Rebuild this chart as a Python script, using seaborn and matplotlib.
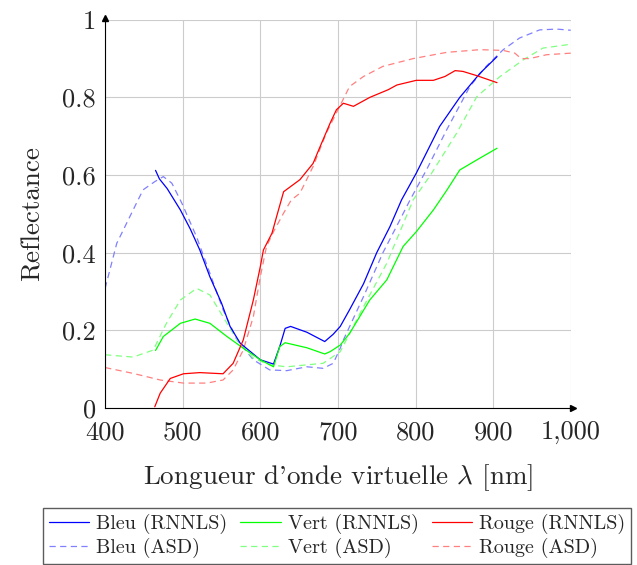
import numpy as np
import pandas as pd
import matplotlib
matplotlib.use("Agg")
import matplotlib.pyplot as plt
import seaborn as sns
from matplotlib.ticker import FuncFormatter

# Data
bleu_rnnls_x = [465, 470, 480, 497, 510, 522, 535, 550, 561, 574, 600, 617, 625, 632, 639, 660, 683, 694, 703, 715, 733, 750, 767, 782, 801, 831, 857, 883, 905]
bleu_rnnls_y = [0.612, 0.59, 0.565, 0.51, 0.46, 0.407, 0.338, 0.27, 0.21, 0.167, 0.124, 0.113, 0.158, 0.205, 0.21, 0.195, 0.171, 0.19, 0.21, 0.253, 0.32, 0.40, 0.467, 0.536, 0.605, 0.725, 0.80, 0.862, 0.905]

vert_rnnls_x = [465, 475, 497, 516, 535, 557, 578, 600, 617, 625, 632, 660, 683, 690, 703, 715, 741, 763, 784, 801, 823, 840, 857, 879, 905]
vert_rnnls_y = [0.148, 0.184, 0.218, 0.229, 0.218, 0.184, 0.154, 0.124, 0.106, 0.158, 0.168, 0.155, 0.139, 0.145, 0.162, 0.192, 0.278, 0.33, 0.416, 0.454, 0.51, 0.56, 0.613, 0.639, 0.669]

rouge_rnnls_x = [464, 471, 484, 501, 522, 552, 565, 578, 591, 600, 604, 615, 621, 630, 651, 668, 677, 690, 698, 707, 720, 741, 765, 776, 801, 823, 838, 851, 861, 879, 905]
rouge_rnnls_y = [0.003, 0.038, 0.076, 0.088, 0.091, 0.088, 0.115, 0.175, 0.278, 0.364, 0.407, 0.45, 0.493, 0.557, 0.588, 0.63, 0.673, 0.734, 0.768, 0.785, 0.777, 0.80, 0.82, 0.832, 0.844, 0.844, 0.854, 0.869, 0.867, 0.856, 0.838]

bleu_asd_x = [400, 415, 441, 449, 464, 475, 486, 499, 518, 535, 552, 570, 591, 612, 634, 660, 681, 694, 703, 707, 733, 758, 780, 793, 814, 840, 870, 891, 913, 934, 960, 982, 1000]
bleu_asd_y = [0.308, 0.424, 0.53, 0.562, 0.583, 0.596, 0.579, 0.527, 0.44, 0.347, 0.253, 0.175, 0.124, 0.098, 0.096, 0.106, 0.102, 0.115, 0.154, 0.175, 0.287, 0.40, 0.485, 0.536, 0.613, 0.716, 0.828, 0.88, 0.923, 0.953, 0.974, 0.976, 0.973]

vert_asd_x = [400, 436, 462, 479, 497, 518, 535, 552, 570, 591, 612, 634, 660, 681, 703, 733, 763, 797, 818, 853, 879, 909, 939, 964, 1000]
vert_asd_y = [0.137, 0.131, 0.149, 0.218, 0.278, 0.308, 0.291, 0.235, 0.175, 0.128, 0.111, 0.106, 0.111, 0.115, 0.145, 0.261, 0.373, 0.536, 0.596, 0.708, 0.802, 0.854, 0.897, 0.927, 0.937]

rouge_asd_x = [400, 436, 471, 501, 531, 552, 565, 578, 591, 600, 608, 617, 630, 640, 651, 668, 685, 703, 715, 733, 758, 797, 840, 883, 913, 928, 936, 947, 969, 1000]
rouge_asd_y = [0.104, 0.089, 0.072, 0.064, 0.064, 0.072, 0.098, 0.149, 0.235, 0.338, 0.416, 0.454, 0.502, 0.536, 0.553, 0.622, 0.708, 0.78, 0.828, 0.854, 0.88, 0.90, 0.916, 0.923, 0.921, 0.914, 0.90, 0.90, 0.91, 0.914]

x_ticks = [400, 500, 600, 700, 800, 900, 1000]
y_ticks = [0, 0.2, 0.4, 0.6, 0.8, 1]

sns.set_style("white")
plt.rcParams['font.family'] = ['cmr10', 'DejaVu Serif']
plt.rcParams['mathtext.fontset'] = 'cm'
plt.rcParams['axes.formatter.use_mathtext'] = True

fig = plt.figure(figsize=(6.37, 5.65), dpi=100)
ax = fig.add_axes([0.165, 0.278, 0.731, 0.687])

series = [
    (bleu_rnnls_x, bleu_rnnls_y, "Bleu (RNNLS)", "#0000ff", False),
    (bleu_asd_x, bleu_asd_y, "Bleu (ASD)", "#8080ff", True),
    (vert_rnnls_x, vert_rnnls_y, "Vert (RNNLS)", "#00ff00", False),
    (vert_asd_x, vert_asd_y, "Vert (ASD)", "#80ff80", True),
    (rouge_rnnls_x, rouge_rnnls_y, "Rouge (RNNLS)", "#ff0000", False),
    (rouge_asd_x, rouge_asd_y, "Rouge (ASD)", "#ff8080", True),
]

# draw dashed (ASD) first so solid lines sit on top
order = [1, 3, 5, 0, 2, 4]
for i in order:
    xs, ys, lab, col, dashed = series[i]
    df = pd.DataFrame({"x": xs, "y": ys})
    sns.lineplot(data=df, x="x", y="y", ax=ax, color=col, lw=0.9, sort=False,
                 estimator=None, label=lab, legend=False,
                 linestyle=(0, (5, 3.5)) if dashed else "-")

ax.set_xlim(400, 1000)
ax.set_ylim(0, 1)
ax.set_xticks(x_ticks)
ax.set_yticks(y_ticks)
ax.xaxis.set_major_formatter(FuncFormatter(lambda v, p: f"{int(v):,}"))
ax.yaxis.set_major_formatter(FuncFormatter(lambda v, p: "0" if v == 0 else ("1" if v == 1 else f"{v:.1f}")))
ax.grid(True, color="#cccccc", lw=0.8)
ax.tick_params(labelsize=19, length=3, width=0.6, color="#444444", direction="out")
ax.tick_params(axis="x", pad=6)
for s in ["top", "right"]:
    ax.spines[s].set_visible(False)
for s in ["left", "bottom"]:
    ax.spines[s].set_color("black")
    ax.spines[s].set_linewidth(0.8)
ax.plot(1.005, 0, ">", color="black", ms=5, transform=ax.transAxes, clip_on=False)
ax.plot(0, 1.005, "^", color="black", ms=5, transform=ax.transAxes, clip_on=False)

ax.set_xlabel("Longueur d'onde virtuelle $\\lambda$ [nm]", fontsize=19.5, labelpad=13)
ax.set_ylabel("Reflectance", fontsize=19.5, labelpad=13)

handles, labels = ax.get_legend_handles_labels()
lookup = dict(zip(labels, handles))
leg_labels = [s[2] for s in series]
fig.legend([lookup[l] for l in leg_labels], leg_labels, ncol=3, loc="upper center",
           bbox_to_anchor=(0.529, 0.101), fontsize=14.5, frameon=True, fancybox=False,
           edgecolor="#333333", handlelength=2.0, columnspacing=0.65, handletextpad=0.35,
           borderaxespad=0, labelspacing=0.2, borderpad=0.3)

fig.savefig("out.png", dpi=100)
